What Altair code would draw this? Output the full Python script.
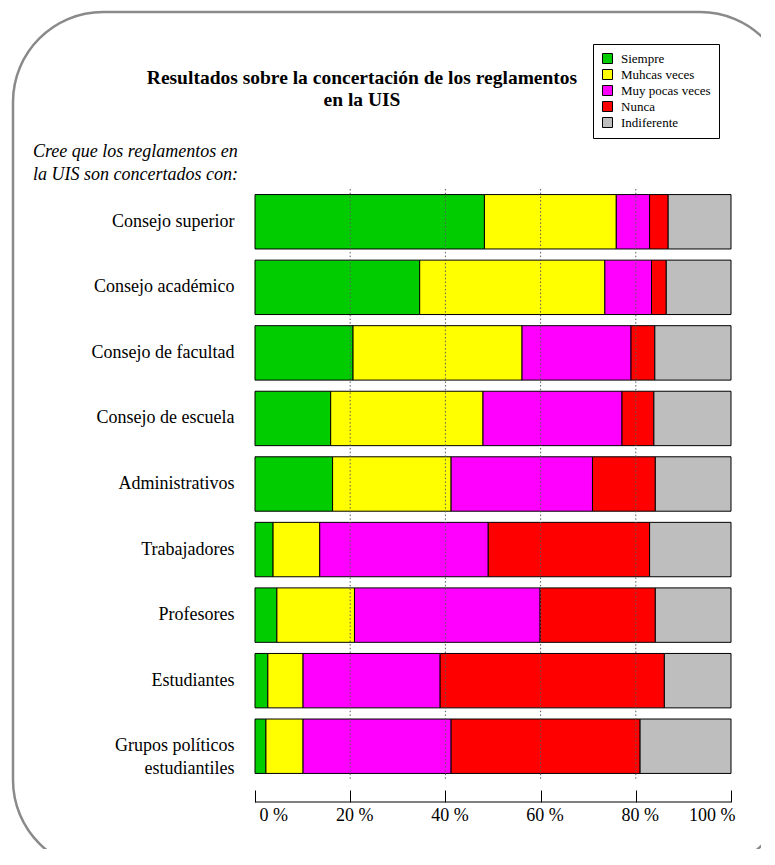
import altair as alt
import pandas as pd

# ---- data ----
categories = ["Consejo superior", "Consejo académico", "Consejo de facultad",
              "Consejo de escuela", "Administrativos", "Trabajadores",
              "Profesores", "Estudiantes", "Grupos políticos\nestudiantiles"]
responses = ["Siempre", "Muhcas veces", "Muy pocas veces", "Nunca", "Indiferente"]
colors = ["#00CC00", "#FFFF00", "#FF00FF", "#FF0000", "#BEBEBE"]

siempre = [48.2, 34.6, 20.6, 15.9, 16.3, 3.8, 4.6, 2.7, 2.3]
muchas = [27.7, 38.9, 35.5, 32.0, 24.9, 9.8, 16.3, 7.4, 7.8]
pocas = [7.0, 9.8, 22.9, 29.2, 29.7, 35.4, 39.0, 28.8, 31.1]
nunca = [3.9, 3.1, 5.0, 6.7, 13.2, 33.9, 24.2, 47.1, 39.7]
indiferente = [13.2, 13.6, 16.0, 16.2, 15.9, 17.1, 15.9, 14.0, 19.1]

x_ticks = [0, 20, 40, 60, 80, 100]
grid_vals = [20, 40, 60, 80]
title_text = "Resultados sobre la concertación de los reglamentos\nen la UIS"
ytitle_text = "Cree que los reglamentos en\nla UIS son concertados con:"

series = [siempre, muchas, pocas, nunca, indiferente]
rows = []
for ri, (resp, vals) in enumerate(zip(responses, series)):
    for cat, v in zip(categories, vals):
        rows.append({"category": cat, "response": resp, "value": v, "idx": ri})
df = pd.DataFrame(rows)

SERIF = "Liberation Serif"

x_scale = alt.Scale(domain=[0, 100], nice=False, zero=True)
x_axis = alt.Axis(values=x_ticks, labelExpr="datum.value + ' %'",
                  domain=False, grid=False, tickSize=12, offset=11,
                  tickColor="black", tickWidth=1,
                  labelFont=SERIF, labelFontSize=18, labelColor="black",
                  labelPadding=4, labelOffset=4, title=None)

border = alt.Chart(pd.DataFrame({"z": [0]})).mark_rect(
    fillOpacity=0, stroke="#8a8a8a", strokeWidth=2.5, cornerRadius=90
).encode(
    x=alt.value(-242), x2=alt.value(535), y=alt.value(-177), y2=alt.value(681)
)

bars = alt.Chart(df).mark_bar(stroke="black", strokeWidth=1).encode(
    x=alt.X("value:Q", stack="zero", scale=x_scale, axis=x_axis, title=None),
    y=alt.Y("category:N", sort=categories,
            scale=alt.Scale(paddingInner=0.17, paddingOuter=0.085),
            axis=alt.Axis(title=None, domain=False, ticks=False, labelPadding=21,
                          labelExpr="split(datum.label, '\\n')",
                          labelFont=SERIF, labelFontSize=18, labelColor="black",
                          labelLineHeight=23, labelLimit=300)),
    color=alt.Color("response:N",
                    scale=alt.Scale(domain=responses, range=colors),
                    legend=alt.Legend(title=None, orient="none", legendX=338, legendY=-145,
                                      symbolType="square", symbolSize=100,
                                      symbolStrokeColor="black", symbolStrokeWidth=1,
                                      labelFont=SERIF, labelFontSize=13, labelColor="black",
                                      strokeColor="black", fillColor="white",
                                      padding=8, rowPadding=1, labelOffset=7)),
    order=alt.Order("idx:Q"),
)

grid = alt.Chart(pd.DataFrame({"g": grid_vals})).mark_rule(
    strokeDash=[1.5, 2.2], color="#5a5a5a", strokeWidth=1
).encode(x=alt.X("g:Q", scale=x_scale, axis=x_axis, title=None))

baseline = alt.Chart(pd.DataFrame({"a": [x_ticks[0]], "b": [x_ticks[-1]]})).mark_rule(
    color="black", strokeWidth=1
).encode(x=alt.X("a:Q", scale=x_scale, axis=x_axis, title=None), x2="b:Q",
         y=alt.value(613))

title = alt.Chart(pd.DataFrame({"t": [title_text]})).mark_text(
    font=SERIF, fontSize=19.5, fontWeight="bold", align="center", baseline="alphabetic",
    lineBreak="\n", lineHeight=22, color="black"
).encode(x=alt.value(107), y=alt.value(-105), text="t:N")

ytitle = alt.Chart(pd.DataFrame({"t": [ytitle_text]})).mark_text(
    font=SERIF, fontSize=18, fontStyle="italic", align="left", baseline="alphabetic",
    lineBreak="\n", lineHeight=23, color="black"
).encode(x=alt.value(-222), y=alt.value(-32), text="t:N")

chart = alt.layer(border, bars, grid, baseline, title, ytitle).properties(
    width=476, height=590,
    autosize=alt.AutoSizeParams(type="none"),
    padding={"left": 247, "top": 181, "right": 30, "bottom": 70},
    background="white",
).configure_view(stroke=None)

chart.save("out.html", embed_options={"renderer": "svg", "actions": False})
